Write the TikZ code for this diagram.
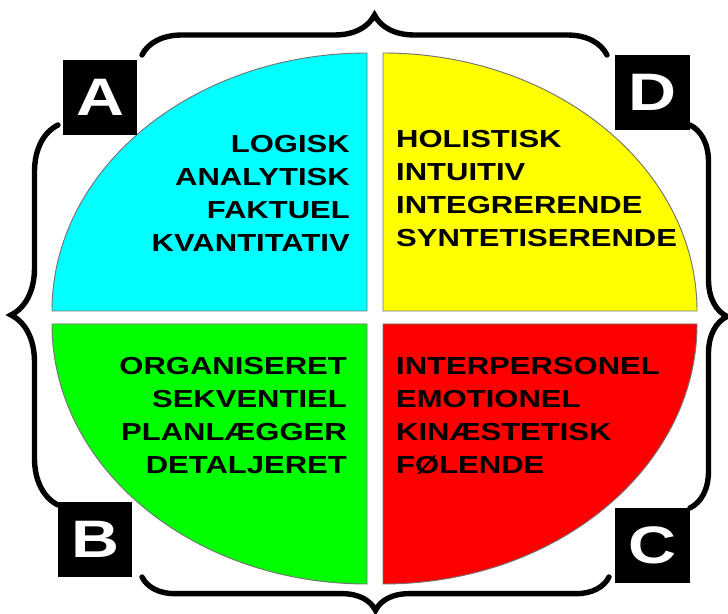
\documentclass[tikz,border=0pt]{standalone}
\usepackage{fontspec}
\usetikzlibrary{decorations.pathreplacing}
\newfontfamily\quadfont[FakeStretch=1.26]{Liberation Sans}
\definecolor{QCyan}{RGB}{0,255,255}
\definecolor{QYellow}{RGB}{255,255,0}
\definecolor{QGreen}{RGB}{0,255,0}
\definecolor{QRed}{RGB}{255,0,0}

\begin{document}
\begin{tikzpicture}[x=0.03cm, y=0.03cm,
          quad/.style={draw=black!55, line width=0.8pt},
          letterbox/.style={rectangle, fill=black, text=white,
                            minimum size=2.24cm, inner sep=0pt,
                            font=\quadfont\fontsize{45}{45}\selectfont\bfseries},
          words/.style={inner sep=0pt,
                        font=\quadfont\fontsize{21}{28.1}\selectfont\bfseries},
          curly/.style={decorate, decoration={brace, amplitude=#1},
                        line width=4.6pt, line cap=round}
        ]
        \useasboundingbox (0,0) rectangle (728,613);
        % Quadrants
        \draw[quad, fill=QCyan] (367,302) -- (52,302)
              arc[start angle=180, end angle=90, x radius=315, y radius=258] -- cycle;
        \draw[quad, fill=QYellow] (383,302) -- (383,560)
              arc[start angle=90, end angle=0, x radius=314, y radius=258] -- cycle;
        \draw[quad, fill=QGreen] (367,289) -- (367,29)
              arc[start angle=270, end angle=180, x radius=315, y radius=260] -- cycle;
        \draw[quad, fill=QRed] (383,289) -- (697,289)
              arc[start angle=0, end angle=-90, x radius=314, y radius=260] -- cycle;
        % Quadrant texts
        \node[words, anchor=north east, align=right] (tA) at (350,478)
              {LOGISK\\ANALYTISK\\FAKTUEL\\KVANTITATIV};
        \node[words, anchor=north west, align=left] (tD) at (396,483)
              {HOLISTISK\\INTUITIV\\INTEGRERENDE\\SYNTETISERENDE};
        \node[words, anchor=north east, align=right] (tB) at (347,256)
              {ORGANISERET\\SEKVENTIEL\\PLANLÆGGER\\DETALJERET};
        \node[words, anchor=north west, align=left] (tC) at (396,256)
              {INTERPERSONEL\\EMOTIONEL\\KINÆSTETISK\\FØLENDE};
        % Corner letters
        \node[letterbox] (boxA) at (100,515.5) {A};
        \node[letterbox] (boxD) at (652.5,520.5) {D};
        \node[letterbox] (boxB) at (95,73.5) {B};
        \node[letterbox] (boxC) at (652.5,67.5) {C};
        % Brace ends
        \coordinate (topL) at (142,558);
        \coordinate (topR) at (607,558);
        \coordinate (botL) at (142,36);
        \coordinate (botR) at (609,36);
        \coordinate (lefT) at (58,488);
        \coordinate (lefB) at (58,108);
        \coordinate (rigT) at (690,488);
        \coordinate (rigB) at (690,105);
        % Braces
        \draw[curly=1.2cm] (topL) -- (topR);
        \draw[curly=1.0cm] (botR) -- (botL);
        \draw[curly=1.41cm] (lefB) -- (lefT);
        \draw[curly=1.11cm] (rigT) -- (rigB);
      \end{tikzpicture}
\end{document}
